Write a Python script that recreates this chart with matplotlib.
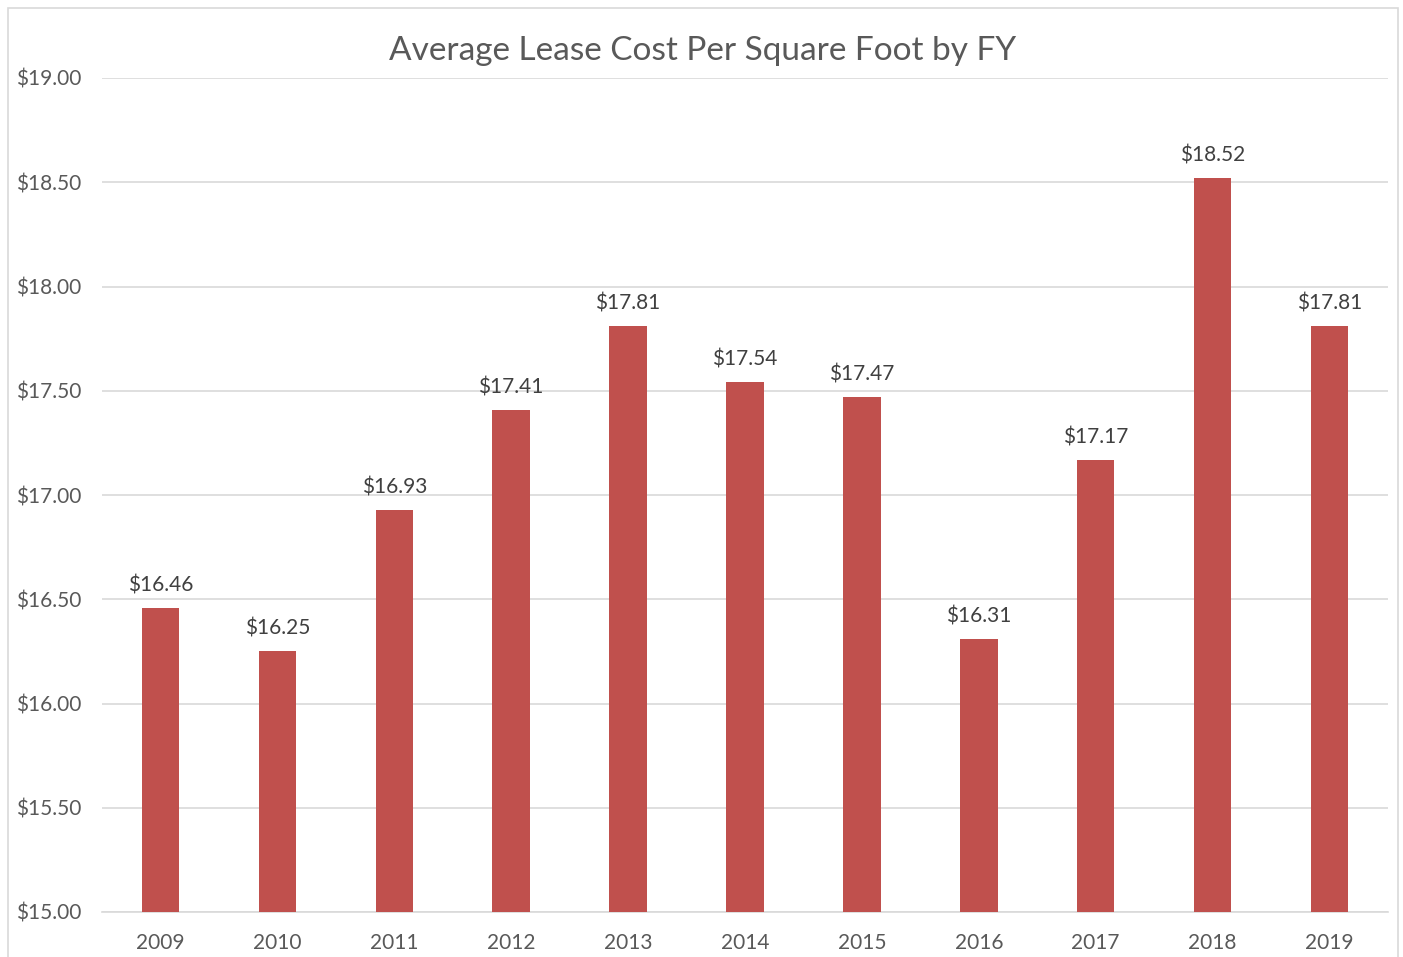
import numpy as np
import matplotlib.pyplot as plt
from matplotlib.patches import Rectangle

## Data
years = ['2009', '2010', '2011', '2012', '2013', '2014', '2015', '2016', '2017', '2018', '2019']
cost = [16.46, 16.25, 16.93, 17.41, 17.81, 17.54, 17.47, 16.31, 17.17, 18.52, 17.81]
yticks = [15.0, 15.5, 16.0, 16.5, 17.0, 17.5, 18.0, 18.5, 19.0]

plt.rcParams['font.family'] = ['Lato', 'DejaVu Sans']
txt = '#595959'

fig = plt.figure(figsize=(14.03, 9.57), dpi=100)
#chart frame like excel
fig.patches.append(Rectangle((8/1403, -0.05), 1390/1403, 1.05 - 8/957, transform=fig.transFigure,
                             fill=False, edgecolor='#D9D9D9', linewidth=1.2))
ax = fig.add_axes([102/1403, 45/957, 1286/1403, 834/957])

x = np.arange(len(years))
ax.bar(x, cost, width=0.32, color='#C0504D', zorder=3)
for i, v in enumerate(cost):
    ax.text(i, v + 0.06, '${:.2f}'.format(v), ha='center', va='bottom', fontsize=15, color='#404040')

ax.set_ylim(15, 19)
ax.set_xlim(-0.5, len(years) - 0.5)
ax.set_yticks(yticks)
ax.set_yticklabels(['${:.2f}'.format(t) for t in yticks])
ax.set_xticks(x)
ax.set_xticklabels(years)
ax.tick_params(length=0, labelsize=15, colors=txt)
ax.tick_params(axis='y', pad=15)
ax.tick_params(axis='x', pad=15)
ax.grid(axis='y', color='#D9D9D9', linewidth=1.2, zorder=0)
for s in ['top', 'right', 'left']:
    ax.spines[s].set_visible(False)
ax.spines['bottom'].set_color('#D9D9D9')
ax.spines['bottom'].set_linewidth(1.2)

fig.text(703/1403, 1 - 51/957, 'Average Lease Cost Per Square Foot by FY', ha='center', va='center',
         fontsize=24, color=txt)

plt.savefig('out.png', dpi=100)
